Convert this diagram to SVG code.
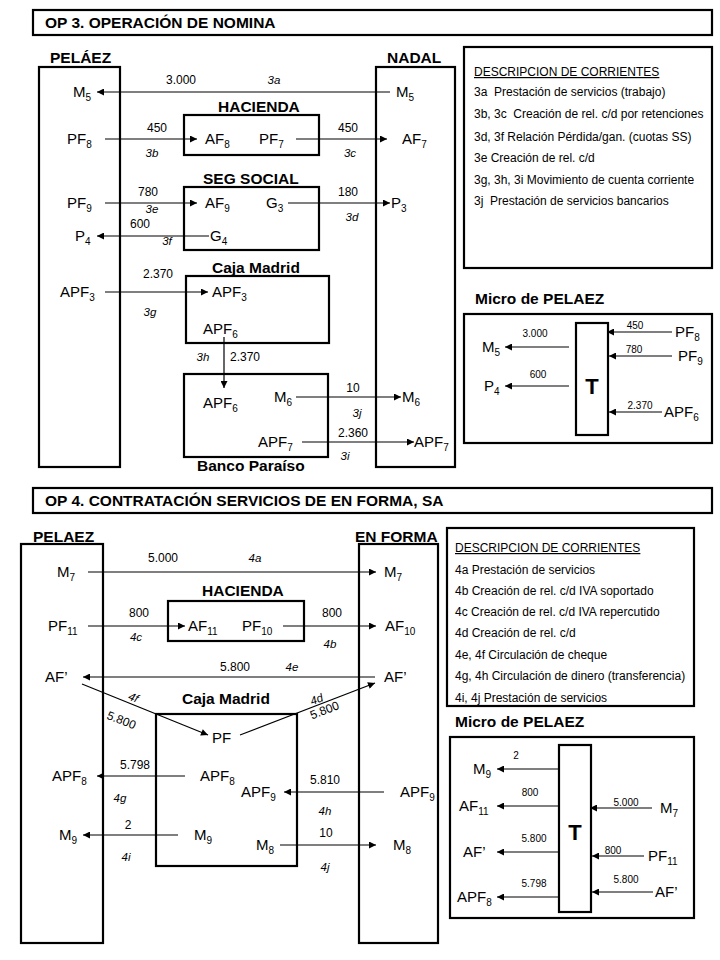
<svg xmlns="http://www.w3.org/2000/svg" width="720" height="960" viewBox="0 0 720 960">
<style>
text{font-family:"Liberation Sans",Arial,sans-serif;fill:#000}
.n{font-size:15px}
.s{font-size:10px}
.h{font-size:15.5px;font-weight:bold}
.t{font-size:15.5px;font-weight:bold}
.v{font-size:12px;text-anchor:middle}
.c{font-size:11.5px;font-style:italic;text-anchor:middle}
.d{font-size:12px;white-space:pre}
.m{font-size:10px;text-anchor:middle}
.box{fill:none;stroke:#000;stroke-width:2.2}
.cn line{stroke:#000;stroke-width:1.2;marker-end:url(#ah)}
</style>
<defs>
<marker id="ah" viewBox="0 0 10 10" refX="10" refY="5" markerWidth="8" markerHeight="7" markerUnits="userSpaceOnUse" orient="auto"><path d="M0,0 L10,5 L0,10 z" fill="#000"/></marker>
</defs>
<rect width="720" height="960" fill="#fff"/>

<!-- ===== SECTION 1 ===== -->
<g id="title1"><rect class="box" x="33" y="10" width="679" height="25"/><text class="t" x="45" y="28">OP 3. OPERACIÓN DE NOMINA</text></g>

<g id="pelaez1"><rect class="box" x="39" y="67" width="81" height="400"/><text class="h" x="50" y="63">PELÁEZ</text>
<text class="n" x="73" y="97">M<tspan class="s" dy="4">5</tspan></text>
<text class="n" x="67" y="144">PF<tspan class="s" dy="4">8</tspan></text>
<text class="n" x="67" y="208">PF<tspan class="s" dy="4">9</tspan></text>
<text class="n" x="75" y="241">P<tspan class="s" dy="4">4</tspan></text>
<text class="n" x="60" y="297">APF<tspan class="s" dy="4">3</tspan></text>
</g>
<g id="nadal"><rect class="box" x="376" y="67" width="79" height="400"/><text class="h" x="387" y="63">NADAL</text>
<text class="n" x="396" y="97">M<tspan class="s" dy="4">5</tspan></text>
<text class="n" x="402" y="144">AF<tspan class="s" dy="4">7</tspan></text>
<text class="n" x="391" y="208">P<tspan class="s" dy="4">3</tspan></text>
<text class="n" x="402" y="402">M<tspan class="s" dy="4">6</tspan></text>
<text class="n" x="414" y="447">APF<tspan class="s" dy="4">7</tspan></text>
</g>
<g id="hacienda1"><rect class="box" x="184" y="115" width="135" height="40"/><text class="h" x="218" y="112">HACIENDA</text>
<text class="n" x="205" y="144">AF<tspan class="s" dy="4">8</tspan></text>
<text class="n" x="259" y="144">PF<tspan class="s" dy="4">7</tspan></text>
</g>
<g id="segsocial"><rect class="box" x="184" y="187" width="135" height="63"/><text class="h" x="203" y="184">SEG SOCIAL</text>
<text class="n" x="205" y="208">AF<tspan class="s" dy="4">9</tspan></text>
<text class="n" x="266" y="208">G<tspan class="s" dy="4">3</tspan></text>
<text class="n" x="210" y="241">G<tspan class="s" dy="4">4</tspan></text>
</g>
<g id="cajamadrid1"><rect class="box" x="186" y="276" width="143" height="67"/><text class="h" x="212" y="273">Caja Madrid</text>
<text class="n" x="212" y="297">APF<tspan class="s" dy="4">3</tspan></text>
<text class="n" x="203" y="334">APF<tspan class="s" dy="4">6</tspan></text>
</g>
<g id="bancoparaiso"><rect class="box" x="184" y="374" width="144" height="83"/><text class="h" x="197" y="471">Banco Paraíso</text>
<text class="n" x="203" y="408">APF<tspan class="s" dy="4">6</tspan></text>
<text class="n" x="274" y="402">M<tspan class="s" dy="4">6</tspan></text>
<text class="n" x="258" y="447">APF<tspan class="s" dy="4">7</tspan></text>
</g>

<g id="connectors1" class="cn">
<line x1="390" y1="92" x2="97" y2="92"/>
<line x1="105" y1="139" x2="197" y2="139"/>
<line x1="296" y1="139" x2="387" y2="139"/>
<line x1="105" y1="203" x2="197" y2="203"/>
<line x1="288" y1="203" x2="390" y2="203"/>
<line x1="209" y1="236" x2="97" y2="236"/>
<line x1="105" y1="292" x2="208" y2="292"/>
<line x1="224" y1="337" x2="224" y2="388"/>
<line x1="296" y1="397" x2="401" y2="397"/>
<line x1="302" y1="442" x2="414" y2="442"/>
</g>
<g id="flowlabels1">
<text class="v" x="181" y="84">3.000</text><text class="c" x="274" y="84">3a</text>
<text class="v" x="157" y="132">450</text><text class="c" x="152" y="157">3b</text>
<text class="v" x="348" y="132">450</text><text class="c" x="350" y="157">3c</text>
<text class="v" x="148" y="196">780</text><text class="c" x="152" y="213">3e</text>
<text class="v" x="348" y="196">180</text><text class="c" x="352" y="221">3d</text>
<text class="v" x="140" y="228">600</text><text class="c" x="167" y="245">3f</text>
<text class="v" x="158" y="278">2.370</text><text class="c" x="150" y="316">3g</text>
<text class="c" x="203" y="361">3h</text><text class="v" x="245" y="361">2.370</text>
<text class="v" x="353" y="392">10</text><text class="c" x="357" y="417">3j</text>
<text class="v" x="353" y="437">2.360</text><text class="c" x="345" y="460">3i</text>
</g>

<g id="desc1"><rect class="box" x="464" y="47" width="248" height="221"/>
<text class="d" x="474" y="76" text-decoration="underline">DESCRIPCION DE CORRIENTES</text>
<text class="d" x="474" y="96" xml:space="preserve">3a  Prestación de servicios (trabajo)</text>
<text class="d" x="474" y="118" xml:space="preserve">3b, 3c  Creación de rel. c/d por retenciones</text>
<text class="d" x="474" y="141">3d, 3f Relación Pérdida/gan. (cuotas SS)</text>
<text class="d" x="474" y="162">3e Creación de rel. c/d</text>
<text class="d" x="474" y="184">3g, 3h, 3i Movimiento de cuenta corriente</text>
<text class="d" x="474" y="205" xml:space="preserve">3j  Prestación de servicios bancarios</text>
</g>

<g id="micro1"><text class="h" x="475" y="304">Micro de PELAEZ</text>
<rect class="box" x="464" y="314" width="248" height="129"/>
<rect class="box" x="576" y="323" width="32" height="112"/>
<text x="592" y="394" font-size="22" font-weight="bold" text-anchor="middle">T</text>
<text class="n" x="482" y="352">M<tspan class="s" dy="4">5</tspan></text>
<text class="n" x="484" y="391">P<tspan class="s" dy="4">4</tspan></text>
<text class="n" x="675" y="337">PF<tspan class="s" dy="4">8</tspan></text>
<text class="n" x="678" y="361">PF<tspan class="s" dy="4">9</tspan></text>
<text class="n" x="664" y="417">APF<tspan class="s" dy="4">6</tspan></text>
<g class="cn">
<line x1="569" y1="347" x2="505" y2="347"/>
<line x1="569" y1="386" x2="505" y2="386"/>
<line x1="672" y1="332" x2="607" y2="332"/>
<line x1="672" y1="356" x2="609" y2="356"/>
<line x1="662" y1="412" x2="609" y2="412"/>
</g>
<text class="m" x="535" y="337">3.000</text>
<text class="m" x="538" y="378">600</text>
<text class="m" x="635" y="329">450</text>
<text class="m" x="634" y="353">780</text>
<text class="m" x="640" y="409">2.370</text>
</g>

<!-- ===== SECTION 2 ===== -->
<g id="title2"><rect class="box" x="33" y="488" width="679" height="25"/><text class="t" x="45" y="506">OP 4. CONTRATACIÓN SERVICIOS DE EN FORMA, SA</text></g>

<g id="pelaez2"><rect class="box" x="21" y="544" width="82" height="399"/><text class="h" x="33" y="542">PELAEZ</text>
<text class="n" x="57" y="577">M<tspan class="s" dy="4">7</tspan></text>
<text class="n" x="48" y="631">PF<tspan class="s" dy="4">11</tspan></text>
<text class="n" x="45" y="682">AF’</text>
<text class="n" x="52" y="781">APF<tspan class="s" dy="4">8</tspan></text>
<text class="n" x="59" y="840">M<tspan class="s" dy="4">9</tspan></text>
</g>
<g id="enforma"><rect class="box" x="359" y="544" width="79" height="399"/><text class="h" x="355" y="542">EN FORMA</text>
<text class="n" x="384" y="577">M<tspan class="s" dy="4">7</tspan></text>
<text class="n" x="385" y="631">AF<tspan class="s" dy="4">10</tspan></text>
<text class="n" x="384" y="682">AF’</text>
<text class="n" x="400" y="797">APF<tspan class="s" dy="4">9</tspan></text>
<text class="n" x="393" y="850">M<tspan class="s" dy="4">8</tspan></text>
</g>
<g id="hacienda2"><rect class="box" x="168" y="601" width="136" height="40"/><text class="h" x="202" y="596">HACIENDA</text>
<text class="n" x="188" y="631">AF<tspan class="s" dy="4">11</tspan></text>
<text class="n" x="242" y="631">PF<tspan class="s" dy="4">10</tspan></text>
</g>
<g id="cajamadrid2"><rect class="box" x="156" y="714" width="141" height="152"/><text class="h" x="182" y="704">Caja Madrid</text>
<text class="n" x="212" y="743">PF</text>
<text class="n" x="200" y="781">APF<tspan class="s" dy="4">8</tspan></text>
<text class="n" x="241" y="797">APF<tspan class="s" dy="4">9</tspan></text>
<text class="n" x="194" y="840">M<tspan class="s" dy="4">9</tspan></text>
<text class="n" x="256" y="850">M<tspan class="s" dy="4">8</tspan></text>
</g>

<g id="connectors2" class="cn">
<line x1="88" y1="572" x2="376" y2="572"/>
<line x1="88" y1="626" x2="185" y2="626"/>
<line x1="283" y1="626" x2="376" y2="626"/>
<line x1="375" y1="677" x2="83" y2="677"/>
<line x1="82" y1="684" x2="208" y2="735"/>
<line x1="240" y1="735" x2="375" y2="683"/>
<line x1="185" y1="776" x2="97" y2="776"/>
<line x1="384" y1="792" x2="284" y2="792"/>
<line x1="178" y1="835" x2="83" y2="835"/>
<line x1="280" y1="845" x2="376" y2="845"/>
</g>
<g id="flowlabels2">
<text class="v" x="163" y="562">5.000</text><text class="c" x="255" y="562">4a</text>
<text class="v" x="139" y="617">800</text><text class="c" x="136" y="641">4c</text>
<text class="v" x="332" y="617">800</text><text class="c" x="330" y="648">4b</text>
<text class="v" x="235" y="671">5.800</text><text class="c" x="292" y="671">4e</text>
<text class="c" transform="translate(132,701) rotate(22)">4f</text>
<text class="v" transform="translate(120,724) rotate(22)">5.800</text>
<text class="c" transform="translate(318,703) rotate(-21)">4d</text>
<text class="v" transform="translate(326,714) rotate(-21)">5.800</text>
<text class="v" x="135" y="769">5.798</text><text class="c" x="120" y="802">4g</text>
<text class="v" x="325" y="784">5.810</text><text class="c" x="325" y="815">4h</text>
<text class="v" x="128" y="829">2</text><text class="c" x="126" y="861">4i</text>
<text class="v" x="326" y="837">10</text><text class="c" x="325" y="871">4j</text>
</g>

<g id="desc2"><rect class="box" x="447" y="528" width="247" height="178"/>
<text class="d" x="455" y="552" text-decoration="underline">DESCRIPCION DE CORRIENTES</text>
<text class="d" x="455" y="574">4a Prestación de servicios</text>
<text class="d" x="455" y="595">4b Creación de rel. c/d IVA soportado</text>
<text class="d" x="455" y="616">4c Creación de rel. c/d IVA repercutido</text>
<text class="d" x="455" y="637">4d Creación de rel. c/d</text>
<text class="d" x="455" y="659">4e, 4f Circulación de cheque</text>
<text class="d" x="455" y="680">4g, 4h Circulación de dinero (transferencia)</text>
<text class="d" x="455" y="702">4i, 4j Prestación de servicios</text>
</g>

<g id="micro2"><text class="h" x="455" y="727">Micro de PELAEZ</text>
<rect class="box" x="450" y="737" width="244" height="181"/>
<rect class="box" x="559" y="745" width="32" height="167"/>
<text x="575" y="840" font-size="22" font-weight="bold" text-anchor="middle">T</text>
<text class="n" x="473" y="774">M<tspan class="s" dy="4">9</tspan></text>
<text class="n" x="459" y="811">AF<tspan class="s" dy="4">11</tspan></text>
<text class="n" x="463" y="857">AF’</text>
<text class="n" x="457" y="902">APF<tspan class="s" dy="4">8</tspan></text>
<text class="n" x="660" y="813">M<tspan class="s" dy="4">7</tspan></text>
<text class="n" x="648" y="861">PF<tspan class="s" dy="4">11</tspan></text>
<text class="n" x="655" y="897">AF’</text>
<g class="cn">
<line x1="560" y1="769" x2="497" y2="769"/>
<line x1="560" y1="806" x2="497" y2="806"/>
<line x1="560" y1="852" x2="497" y2="852"/>
<line x1="560" y1="897" x2="497" y2="897"/>
<line x1="652" y1="808" x2="590" y2="808"/>
<line x1="644" y1="856" x2="592" y2="856"/>
<line x1="653" y1="892" x2="592" y2="892"/>
</g>
<text class="m" x="516" y="759">2</text>
<text class="m" x="530" y="796">800</text>
<text class="m" x="534" y="842">5.800</text>
<text class="m" x="534" y="887">5.798</text>
<text class="m" x="626" y="806">5.000</text>
<text class="m" x="613" y="854">800</text>
<text class="m" x="626" y="883">5.800</text>
</g>
</svg>
